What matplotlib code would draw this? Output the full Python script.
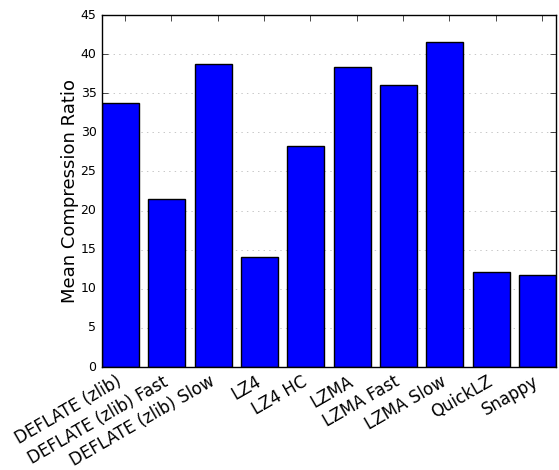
import matplotlib
matplotlib.use("Agg")
import matplotlib.pyplot as plt
import numpy as np

# mean compression ratio per codec / setting
codecs = ["DEFLATE (zlib)", "DEFLATE (zlib) Fast", "DEFLATE (zlib) Slow",
          "LZ4", "LZ4 HC", "LZMA", "LZMA Fast", "LZMA Slow",
          "QuickLZ", "Snappy"]
ratios = [33.7, 21.5, 38.7, 14.1, 28.2, 38.4, 36.0, 41.5, 12.2, 11.8]

plt.style.use("classic")
fig = plt.figure(figsize=(5.59, 4.70), dpi=100, facecolor="white")
ax = fig.add_axes([0.1825, 0.219, 0.812, 0.749])

ind = np.arange(len(codecs))
ax.bar(ind, ratios, width=0.8, align="edge", color="blue", edgecolor="black")
ax.set_xlim(0, len(codecs) - 0.2)
ax.set_ylim(0, 45)
ax.set_xticks(ind + 0.5)
ax.set_xticklabels(codecs, rotation=30, ha="right", fontsize=12)
ax.tick_params(axis="y", labelsize=9)
ax.set_ylabel("Mean Compression Ratio", fontsize=13, labelpad=1)
ax.yaxis.grid(True, linestyle=":", color="#b0b0b0")
ax.set_axisbelow(True)

fig.savefig("out.png", dpi=100, facecolor="white")
